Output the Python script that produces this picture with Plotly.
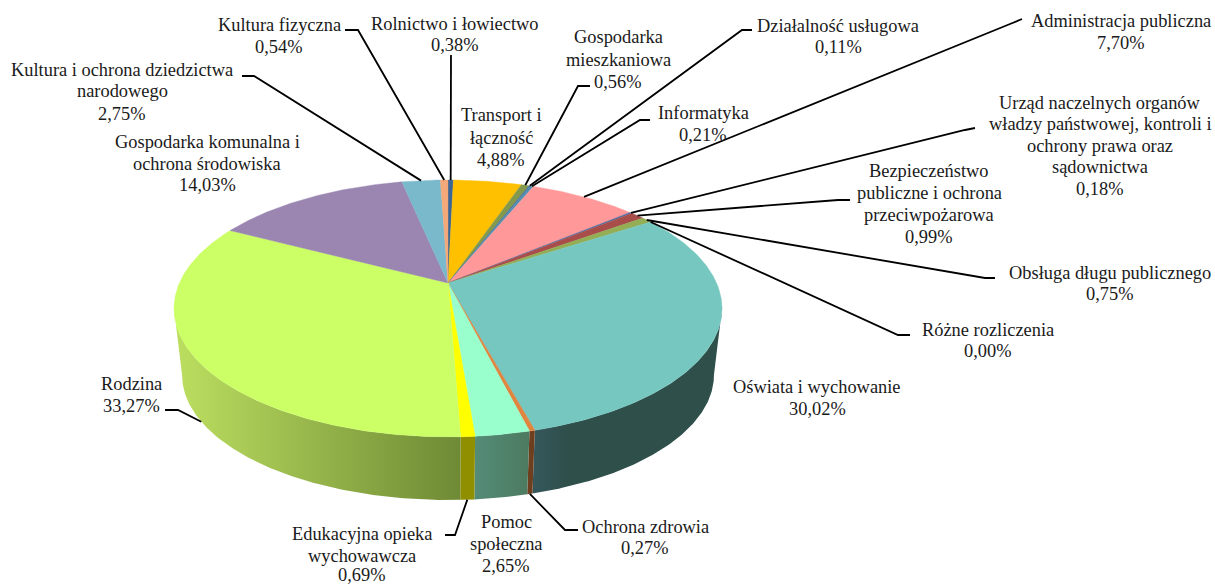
import math
import plotly.graph_objects as go

# ---- data ----
categories = ["Rolnictwo i łowiectwo", "Transport i łączność", "Gospodarka mieszkaniowa",
              "Działalność usługowa", "Informatyka", "Administracja publiczna",
              "Urząd naczelnych organów władzy państwowej, kontroli i ochrony prawa oraz sądownictwa",
              "Bezpieczeństwo publiczne i ochrona przeciwpożarowa", "Obsługa długu publicznego",
              "Różne rozliczenia", "Oświata i wychowanie", "Ochrona zdrowia", "Pomoc społeczna",
              "Edukacyjna opieka wychowawcza", "Rodzina", "Gospodarka komunalna i ochrona środowiska",
              "Kultura i ochrona dziedzictwa narodowego", "Kultura fizyczna"]
values = [0.38, 4.88, 0.56, 0.11, 0.21, 7.70, 0.18, 0.99, 0.75, 0.00, 30.02, 0.27, 2.65, 0.69,
          33.27, 14.03, 2.75, 0.54]
value_labels = [f"{v:.2f}%".replace(".", ",") for v in values]

# ---- styling and layout ----
top_colors = ["#3a6596", "#ffc000", "#84994c", "#4a6fa0", "#4f8fb0", "#ff9999", "#4f6fa5", "#a94d4b",
              "#93ae55", "#8064a2", "#76c7c0", "#e0843e", "#99ffcc", "#ffff00", "#ccff66", "#9a86b0",
              "#7ab8cc", "#f4a97a"]
wall_scales = {
    10: [[0, "#36585c"], [0.18, "#2f4f4b"], [1, "#2f4f4b"]],
    11: [[0, "#6e3f1f"], [1, "#6e3f1f"]],
    12: [[0, "#548c78"], [1, "#4d7a60"]],
    13: [[0, "#8f8f00"], [1, "#8f8f00"]],
    14: [[0, "#bcdf60"], [1, "#6f8a35"]],
}
FONT = "Liberation Serif"
FS = 18.4

# line texts, centre x, y of each line
label_lines = {
    0: (["Rolnictwo i łowiectwo"], 455, [24, 45]),
    1: (["Transport i", "łączność"], 501, [115, 138, 160]),
    2: (["Gospodarka", "mieszkaniowa"], 618, [37, 60, 82]),
    3: (["Działalność usługowa"], 838, [26, 47]),
    4: (["Informatyka"], 703, [113, 135]),
    5: (["Administracja publiczna"], 1121, [21, 43]),
    6: (["Urząd naczelnych organów", "władzy państwowej, kontroli i", "ochrony prawa oraz", "sądownictwa"],
        1100, [103, 124, 146, 167, 189]),
    7: (["Bezpieczeństwo", "publiczne i ochrona", "przeciwpożarowa"], 929, [171, 193, 215, 237]),
    8: (["Obsługa długu publicznego"], 1110, [273, 294]),
    9: (["Różne rozliczenia"], 988, [330, 351]),
    10: (["Oświata i wychowanie"], 817, [387, 409]),
    11: (["Ochrona zdrowia"], 645, [527, 548]),
    12: (["Pomoc", "społeczna"], 506, [522, 544, 566]),
    13: (["Edukacyjna opieka", "wychowawcza"], 362, [534, 556, 575]),
    14: (["Rodzina"], 131, [384, 406]),
    15: (["Gospodarka komunalna i", "ochrona środowiska"], 207, [142, 164, 185]),
    16: (["Kultura i ochrona dziedzictwa", "narodowego"], 122, [70, 91, 114]),
    17: (["Kultura fizyczna"], 279, [25, 47]),
}
# leader: start, elbow; the end is computed from the slice (upper or lower rim)
leaders = {
    0: ((451, 55), (451, 60), "top"),
    2: ((590, 86), (578, 86), "top"),
    3: ((752, 30), (742, 30), "top"),
    4: ((650, 120), (640, 120), "top"),
    5: ((1022, 19), (1010, 24), "top"),
    6: ((975, 128), (965, 130), "top"),
    7: ((850, 200), (838, 200), "top"),
    8: ((995, 278), (985, 278), "top"),
    9: ((910, 335), (898, 335), "top"),
    11: ((578, 530), (565, 530), "low"),
    13: ((445, 535), (455, 535), "low"),
    14: ((165, 410), (178, 410), "low"),
    16: ((242, 76), (254, 76), "top"),
    17: ((345, 30), (358, 30), "top"),
}

# perspective model of the disc (pixel axes)
CX = 448
TOP = dict(y0=283.0, a=268.6, b=123.4, k=0.198)
LOW = dict(y0=350.0, a=260.6, b=120.0, k=0.20)
WALL_FROM, WALL_TO = 101.4, 258.6


def rim(deg, ring):
    t = math.radians(deg)
    u, v = math.sin(t), math.cos(t)
    d = 1 + ring["k"] * v
    return CX + ring["a"] * u / d, ring["y0"] - ring["b"] * v / d


def arc(d0, d1, ring):
    n = max(2, int(abs(d1 - d0) * 2) + 1)
    return [rim(d0 + (d1 - d0) * i / (n - 1), ring) for i in range(n)]


total = sum(values)
bounds = [0.0]
for v in values:
    bounds.append(bounds[-1] + v / total * 360)

fig = go.Figure()

# walls
for i, v in enumerate(values):
    d0, d1 = max(bounds[i], WALL_FROM), min(bounds[i + 1], WALL_TO)
    if d1 <= d0 or i not in wall_scales:
        continue
    pts = arc(d0, d1, TOP) + arc(d1, d0, LOW)
    xs = [p[0] for p in pts]
    ys = [p[1] for p in pts]
    fig.add_trace(go.Scatter(
        x=xs + xs[:1], y=ys + ys[:1], mode="lines", fill="toself", line=dict(width=0),
        fillgradient=dict(type="horizontal", colorscale=wall_scales[i], start=min(xs), stop=max(xs)),
        hoverinfo="skip", showlegend=False))

# top face
for i, v in enumerate(values):
    if v <= 0:
        continue
    pts = [(CX, TOP["y0"])] + arc(bounds[i], bounds[i + 1], TOP)
    xs = [p[0] for p in pts] + [CX]
    ys = [p[1] for p in pts] + [TOP["y0"]]
    fig.add_trace(go.Scatter(
        x=xs, y=ys, mode="lines", fill="toself", fillcolor=top_colors[i],
        line=dict(width=0.4, color=top_colors[i]), name=categories[i],
        text=value_labels[i], hoverinfo="text+name", showlegend=False))

# leader lines
for i, (start, elbow, which) in leaders.items():
    mid = (bounds[i] + bounds[i + 1]) / 2
    end = rim(mid, TOP if which == "top" else LOW)
    fig.add_trace(go.Scatter(
        x=[start[0], elbow[0], end[0]], y=[start[1], elbow[1], end[1]], mode="lines",
        line=dict(color="#000000", width=1.8), hoverinfo="skip", showlegend=False))

# labels
annotations = []
for i, (lines, cx, ys) in label_lines.items():
    for text, y in zip(lines + [value_labels[i]], ys):
        annotations.append(dict(x=cx, y=y, xref="x", yref="y", text=text, showarrow=False,
                                xanchor="center", yanchor="middle",
                                font=dict(family=FONT, size=FS, color="#1a1a1a")))

fig.update_layout(
    width=1215, height=588, margin=dict(l=0, r=0, t=0, b=0),
    paper_bgcolor="#ffffff", plot_bgcolor="#ffffff", showlegend=False,
    xaxis=dict(range=[0, 1215], visible=False, fixedrange=True),
    yaxis=dict(range=[588, 0], visible=False, fixedrange=True),
    annotations=annotations,
)
fig.write_html("out.html", post_script="document.body.style.margin='0';",
               config={"displayModeBar": False})
